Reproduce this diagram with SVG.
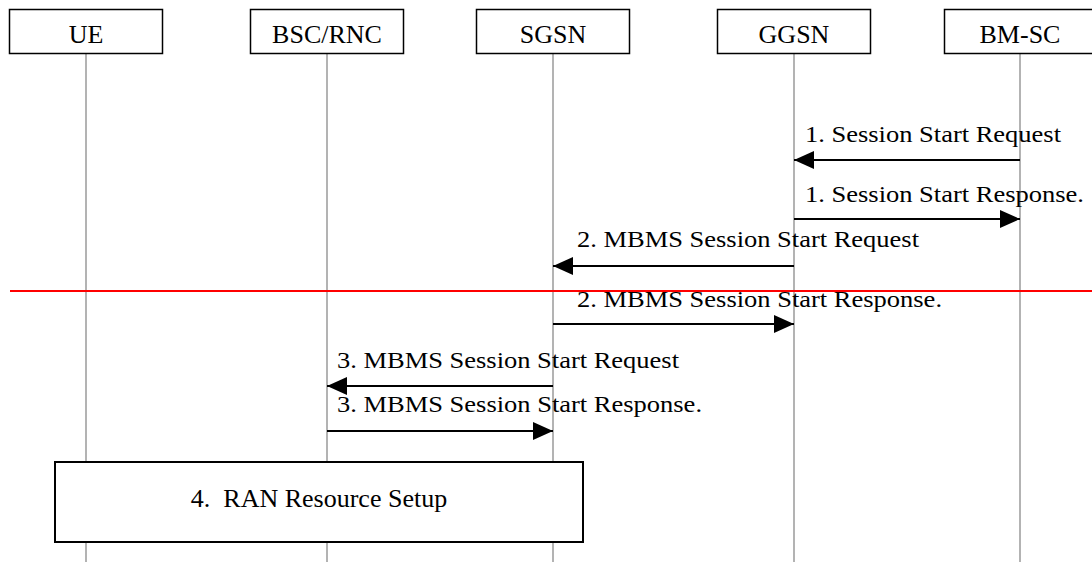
<svg xmlns="http://www.w3.org/2000/svg" width="1092" height="562" viewBox="0 0 1092 562">
<style>
.box{fill:#fff;stroke:#000;stroke-width:1.5}
.life{stroke:#808080;stroke-width:1.2}
.lbl{font-family:"Liberation Serif","Times New Roman",serif;font-size:26px;fill:#000;text-anchor:middle}
.msg{font-family:"Liberation Serif","Times New Roman",serif;font-size:24px;fill:#000}
.arr{stroke:#000;stroke-width:2;fill:none}
</style>
<defs>
<marker id="ah" markerWidth="20" markerHeight="18" refX="20" refY="9" orient="auto" markerUnits="userSpaceOnUse">
<path d="M0,0 L20,9 L0,18 Z" fill="#000"/>
</marker>
</defs>
<rect width="1092" height="562" fill="#fff"/>
<g id="lifelines">
<line class="life" x1="86" y1="53" x2="86" y2="562"/>
<line class="life" x1="327" y1="53" x2="327" y2="562"/>
<line class="life" x1="553" y1="53" x2="553" y2="562"/>
<line class="life" x1="794" y1="53" x2="794" y2="562"/>
<line class="life" x1="1020" y1="53" x2="1020" y2="562"/>
</g>
<g id="UE"><rect class="box" x="9.5" y="9.5" width="153" height="44"/><text class="lbl" x="86" y="43">UE</text></g>
<g id="BSC_RNC"><rect class="box" x="250.5" y="9.5" width="153" height="44"/><text class="lbl" x="327" y="43">BSC/RNC</text></g>
<g id="SGSN"><rect class="box" x="476.5" y="9.5" width="153" height="44"/><text class="lbl" x="553" y="43">SGSN</text></g>
<g id="GGSN"><rect class="box" x="717.5" y="9.5" width="153" height="44"/><text class="lbl" x="794" y="43">GGSN</text></g>
<g id="BM_SC"><rect class="box" x="944.5" y="9.5" width="153" height="44"/><text class="lbl" x="1020" y="43">BM-SC</text></g>
<g id="connectors">
<line class="arr" x1="1020" y1="160" x2="794" y2="160" marker-end="url(#ah)"/>
<line class="arr" x1="794" y1="219" x2="1020" y2="219" marker-end="url(#ah)"/>
<line class="arr" x1="794" y1="266" x2="553" y2="266" marker-end="url(#ah)"/>
<line class="arr" x1="553" y1="324" x2="794" y2="324" marker-end="url(#ah)"/>
<line class="arr" x1="553" y1="386" x2="327" y2="386" marker-end="url(#ah)"/>
<line class="arr" x1="327" y1="431" x2="553" y2="431" marker-end="url(#ah)"/>
</g>
<g id="labels">
<text class="msg" x="805" y="142" textLength="256" lengthAdjust="spacingAndGlyphs">1. Session Start Request</text>
<text class="msg" x="805" y="202" textLength="279" lengthAdjust="spacingAndGlyphs">1. Session Start Response.</text>
<text class="msg" x="577" y="247" textLength="342" lengthAdjust="spacingAndGlyphs">2. MBMS Session Start Request</text>
<text class="msg" x="577" y="307" textLength="365" lengthAdjust="spacingAndGlyphs">2. MBMS Session Start Response.</text>
<text class="msg" x="337" y="368" textLength="342" lengthAdjust="spacingAndGlyphs">3. MBMS Session Start Request</text>
<text class="msg" x="337" y="412" textLength="365" lengthAdjust="spacingAndGlyphs">3. MBMS Session Start Response.</text>
</g>
<line id="separator" x1="10" y1="291" x2="1092" y2="291" stroke="#f00" stroke-width="2"/>
<g id="RAN_Resource_Setup"><rect x="55" y="462" width="528" height="80" fill="#fff" stroke="#000" stroke-width="2"/><text class="lbl" x="319" y="507" xml:space="preserve">4.  RAN Resource Setup</text></g>
</svg>
